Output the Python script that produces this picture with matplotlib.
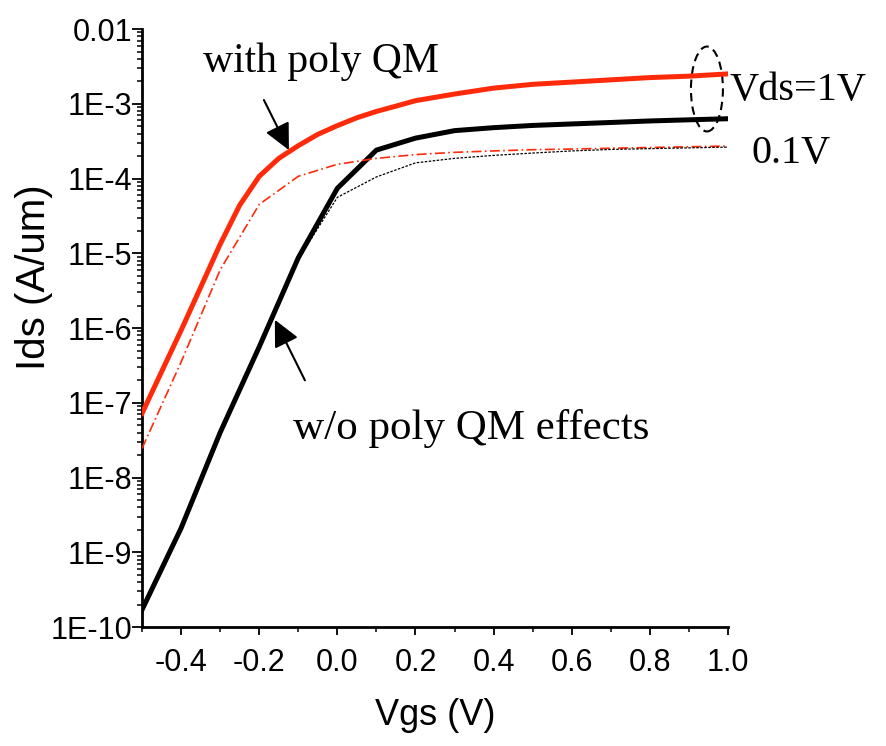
import matplotlib
matplotlib.use("Agg")
import matplotlib.pyplot as plt
from matplotlib.patches import Ellipse
from matplotlib.ticker import FixedLocator, LogLocator, NullFormatter
import numpy as np

# Id-Vg curves, Ids in A/um
vgs = [-0.5, -0.4, -0.3, -0.2, -0.1, 0.0, 0.1, 0.2, 0.3, 0.4, 0.5, 0.6, 0.7, 0.8, 0.9, 1.0]
# the Vds=1V QM curve is sampled more finely through the knee
vgs_qm_vd1 = [-0.5, -0.45, -0.4, -0.35, -0.3, -0.25, -0.2, -0.15, -0.1, -0.05, 0.0,
              0.05, 0.1, 0.15, 0.2, 0.3, 0.4, 0.5, 0.6, 0.7, 0.8, 0.9, 1.0]
qm_vd1 = [7.2e-8, 2.6e-7, 9.3e-7, 3.5e-6, 1.32e-5, 4.4e-5, 1.07e-4, 1.86e-4, 2.75e-4,
          3.9e-4, 5.1e-4, 6.5e-4, 7.9e-4, 9.3e-4, 1.10e-3,
          1.35e-3, 1.62e-3, 1.82e-3, 1.95e-3, 2.09e-3, 2.24e-3, 2.34e-3, 2.51e-3]
qm_vd01 = [2.45e-8, 3.5e-7, 6.0e-6, 4.5e-5, 1.07e-4, 1.55e-4, 1.86e-4, 2.09e-4,
           2.24e-4, 2.34e-4, 2.43e-4, 2.48e-4, 2.54e-4, 2.60e-4, 2.66e-4, 2.72e-4]
noqm_vd1 = [1.7e-10, 2.1e-9, 4.0e-8, 5.6e-7, 8.7e-6, 7.4e-5, 2.4e-4, 3.47e-4,
            4.37e-4, 4.79e-4, 5.13e-4, 5.37e-4, 5.62e-4, 5.89e-4, 6.1e-4, 6.31e-4]
noqm_vd01 = [1.7e-10, 2.1e-9, 4.0e-8, 5.6e-7, 8.3e-6, 5.6e-5, 1.05e-4, 1.62e-4,
             1.86e-4, 2.04e-4, 2.19e-4, 2.34e-4, 2.45e-4, 2.51e-4, 2.57e-4, 2.63e-4]

ytick_vals = [1e-10, 1e-9, 1e-8, 1e-7, 1e-6, 1e-5, 1e-4, 1e-3, 1e-2]
ytick_text = ["1E-10", "1E-9", "1E-8", "1E-7", "1E-6", "1E-5", "1E-4", "1E-3", "0.01"]
xtick_vals = [-0.4, -0.2, 0.0, 0.2, 0.4, 0.6, 0.8, 1.0]

RED = "#ff2a0a"
sans = ["Liberation Sans", "DejaVu Sans"]
serif = ["Liberation Serif", "DejaVu Serif"]

fig = plt.figure(figsize=(8.86, 7.46), dpi=100)
ax = fig.add_axes([0.1603, 0.1595, 0.6614, 0.8016])

ax.plot(vgs_qm_vd1, qm_vd1, color=RED, lw=3.6, solid_joinstyle="round", zorder=3)
ax.plot(vgs, noqm_vd1, color="black", lw=3.6, solid_joinstyle="round", zorder=3)
ax.plot(vgs, qm_vd01, color=RED, lw=1.2, ls=(0, (6, 2, 1, 2)), zorder=4)
ax.plot(vgs, noqm_vd01, color="black", lw=0.9, ls=(0, (2, 1.2)), zorder=4)

ax.set_yscale("log")
ax.set_xlim(-0.5, 1.0)
ax.set_ylim(1e-10, 1e-2)

for s in ["top", "right"]:
    ax.spines[s].set_visible(False)
for s in ["left", "bottom"]:
    ax.spines[s].set_linewidth(2)

ax.set_yticks(ytick_vals)
ax.set_yticklabels(ytick_text)
ax.yaxis.set_minor_locator(LogLocator(base=10, subs=np.arange(2, 10), numticks=20))
ax.yaxis.set_minor_formatter(NullFormatter())
ax.set_xticks(xtick_vals)
ax.set_xticklabels([f"{v:.1f}" for v in xtick_vals])
ax.xaxis.set_minor_locator(FixedLocator([-0.5, -0.3, -0.1, 0.1, 0.3, 0.5, 0.7, 0.9]))

ax.tick_params(axis="y", which="major", direction="out", length=7, width=1.3, pad=0)
ax.tick_params(axis="y", which="minor", direction="out", length=3.5, width=1.1)
ax.tick_params(axis="x", which="major", direction="out", length=6, width=1.3, pad=9)
ax.tick_params(axis="x", which="minor", direction="out", length=3.5, width=1.1)
for lab in ax.get_xticklabels() + ax.get_yticklabels():
    lab.set_family(sans)
    lab.set_fontsize(22)

ax.set_xlabel("Vgs (V)", family=sans, fontsize=26)
ax.set_ylabel("Ids (A/um)", family=sans, fontsize=29)
ax.xaxis.set_label_coords(0.5, -0.118)
ax.yaxis.set_label_coords(-0.152, 0.585)

# annotations
ax.text(-0.344, 2.66e-3, "with poly QM", family=serif, fontsize=30,
        ha="left", va="baseline")
ax.text(-0.1135, 3.27e-8, "w/o poly QM effects", family=serif, fontsize=31,
        ha="left", va="baseline")
ax.text(1.005, 1.12e-3, "Vds=1V", family=serif, fontsize=29,
        ha="left", va="baseline", clip_on=False)
ax.text(1.061, 1.62e-4, "0.1V", family=serif, fontsize=29,
        ha="left", va="baseline", clip_on=False)

arrow = dict(arrowstyle="-|>,head_length=0.45,head_width=0.22", mutation_scale=36,
             color="black", lw=1.5, shrinkA=0, shrinkB=0)
ax.annotate("", xy=(-0.124, 10 ** -3.62), xytext=(-0.188, 10 ** -2.95), arrowprops=arrow)
ax.annotate("", xy=(-0.160, 10 ** -5.89), xytext=(-0.083, 10 ** -6.70), arrowprops=arrow)

ax.add_patch(Ellipse((0.964, 0.8997), 0.0546, 0.142, transform=ax.transAxes,
                     fill=False, ec="black", lw=1.5, ls=(0, (4, 2.5)), clip_on=False))

fig.savefig("out.png", dpi=100)
